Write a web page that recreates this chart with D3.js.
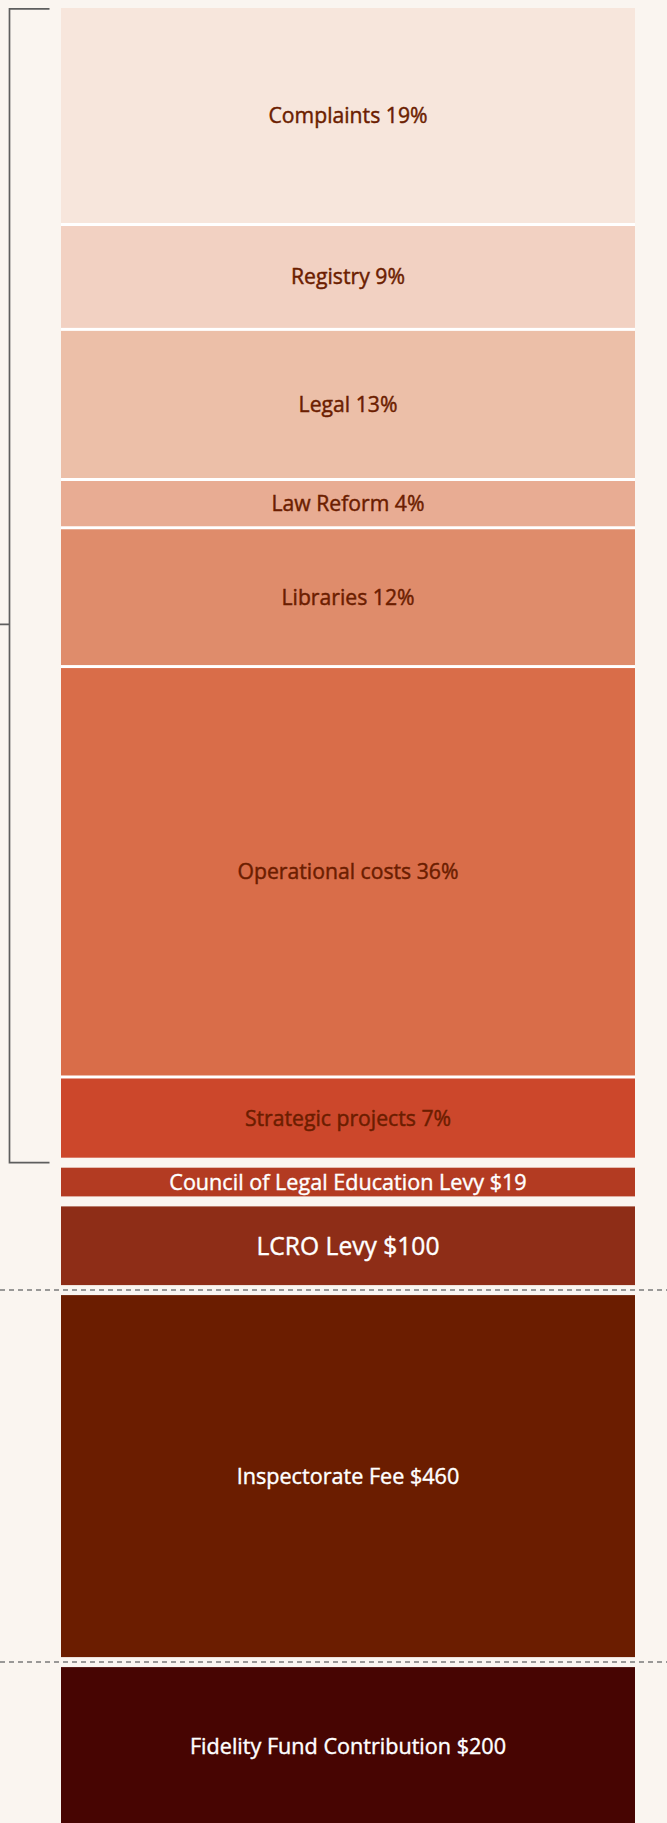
<!DOCTYPE html>
<html>
<head>
<meta charset="utf-8">
<script src="https://cdn.jsdelivr.net/npm/d3@7"></script>
<style>
  html, body { margin: 0; padding: 0; background: #faf5f0; overflow: hidden; }
  svg { display: block; }
  text { font-family: "Open Sans", "Noto Sans", sans-serif; }
</style>
</head>
<body>
<svg id="chart" width="667" height="1823"></svg>
<script>
// ---- Data ----
// Practising fee breakdown (percent shares)
const feeCategories = ["Complaints", "Registry", "Legal", "Law Reform", "Libraries", "Operational costs", "Strategic projects"];
const feeShares = [19, 9, 13, 4, 12, 36, 7];
const feeColors = ["#f7e6dc", "#f2d1c2", "#ecbfa8", "#e8ac93", "#df8c6b", "#d96d49", "#cc472b"];

// Levies and contributions (dollars)
const levyCategories = ["Council of Legal Education Levy", "LCRO Levy", "Inspectorate Fee", "Fidelity Fund Contribution"];
const levyAmounts = [19, 100, 460, 200];
const levyColors = ["#b33b22", "#8e2d17", "#6b1d00", "#470502"];
const levyLabelSizes = [21.6, 24.6, 21.6, 21.6];
// dashed separator drawn before these levy blocks
const dividerBefore = ["Inspectorate Fee", "Fidelity Fund Contribution"];

// ---- Layout ----
const W = 667, H = 1823;
const svg = d3.select("#chart");
svg.append("rect").attr("width", W).attr("height", H).attr("fill", "#faf5f0");

const x = d3.scaleLinear().domain([0, 1]).range([61, 635]);
const top0 = 8;
const innerGap = 3;   // white separators inside the fee stack
const blockGap = 10;  // gap between separate blocks

// percent scale for fee stack
const pctScale = d3.scaleLinear().domain([0, 100]).range([0, 1131.7]);
// dollar scale for levies
const dollarScale = d3.scaleLinear().domain([0, 460]).range([0, 362]);
const minBlock = 28.7;

// compute fee stack positions
let y = top0;
const feeData = feeCategories.map((c, i) => {
  const h = pctScale(feeShares[i]);
  const d = { label: `${c} ${feeShares[i]}%`, y0: y, h, color: feeColors[i] };
  y += h + innerGap;
  return d;
});
const feeTop = top0;
const feeBottom = y - innerGap;

// white background behind fee stack (creates white separators)
svg.append("rect")
  .attr("x", x(0)).attr("y", feeTop)
  .attr("width", x(1) - x(0)).attr("height", feeBottom - feeTop)
  .attr("fill", "#ffffff");

const gFee = svg.append("g");
gFee.selectAll("rect").data(feeData).join("rect")
  .attr("x", x(0)).attr("width", x(1) - x(0))
  .attr("y", d => d.y0).attr("height", d => d.h)
  .attr("fill", d => d.color);
gFee.selectAll("text").data(feeData).join("text")
  .attr("x", (x(0) + x(1)) / 2)
  .attr("y", d => d.y0 + d.h / 2)
  .attr("dy", "0.35em")
  .attr("text-anchor", "middle")
  .attr("font-size", 21.2)
  .attr("font-weight", 400)
  .attr("fill", "#6b1d00")
  .attr("stroke", "#6b1d00")
  .attr("stroke-width", 0.45)
  .text(d => d.label);

// levy blocks
y = feeBottom + blockGap;
const levyData = levyCategories.map((c, i) => {
  const h = Math.max(dollarScale(levyAmounts[i]), minBlock);
  const d = { name: c, label: `${c} $${levyAmounts[i]}`, y0: y, h, color: levyColors[i], size: levyLabelSizes[i] };
  y += h + blockGap;
  return d;
});

const gLevy = svg.append("g");
gLevy.selectAll("rect").data(levyData).join("rect")
  .attr("x", x(0)).attr("width", x(1) - x(0))
  .attr("y", d => d.y0).attr("height", d => d.h)
  .attr("fill", d => d.color);
gLevy.selectAll("text").data(levyData).join("text")
  .attr("x", (x(0) + x(1)) / 2)
  .attr("y", d => d.y0 + d.h / 2)
  .attr("dy", "0.36em")
  .attr("text-anchor", "middle")
  .attr("font-size", d => d.size)
  .attr("font-weight", 400)
  .attr("fill", "#ffffff")
  .attr("stroke", "#ffffff")
  .attr("stroke-width", 0.4)
  .text(d => d.label);

// dashed dividers
levyData.filter(d => dividerBefore.includes(d.name)).forEach(d => {
  const yy = d.y0 - blockGap / 2;
  svg.append("line")
    .attr("x1", 0).attr("x2", W)
    .attr("y1", yy).attr("y2", yy)
    .attr("stroke", "#7a7a7a")
    .attr("stroke-width", 1.5)
    .attr("stroke-dasharray", "5,4");
});

// bracket around fee stack
const bx = 9.5, bxEnd = 49.5;
const bTop = feeTop + 0.8, bBot = feeBottom + 5;
const notchY = bTop + (bBot - bTop) * 0.5335;
svg.append("path")
  .attr("d", `M${bxEnd},${bTop} H${bx} V${bBot} H${bxEnd} M${bx},${notchY} H0`)
  .attr("fill", "none")
  .attr("stroke", "#5e5e5e")
  .attr("stroke-width", 1.7);
</script>
</body>
</html>
